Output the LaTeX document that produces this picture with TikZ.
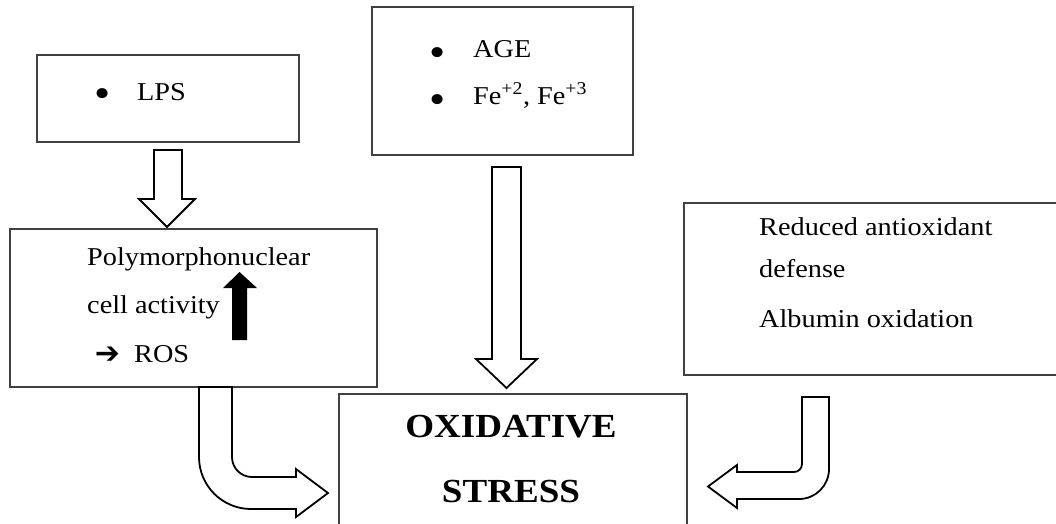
\documentclass[tikz,border=0pt]{standalone}
\usepackage{fontspec}
\setmainfont[FakeStretch=1.1]{Liberation Serif}
\newfontfamily\symfont{DejaVu Sans}
\begin{document}
\begin{tikzpicture}[x=1pt,y=-1pt,
  box/.style={draw=black!75, line width=1.2pt, rectangle, inner sep=0pt, outer sep=0pt, anchor=north west},
  txt/.style={anchor=base west, inner sep=0pt, font=\fontsize{25.7}{30}\selectfont},
  bul/.style={anchor=center, inner sep=0pt, font=\fontsize{42}{48}\selectfont},
  big/.style={anchor=base, inner sep=0pt, font=\fontsize{33.7}{40}\selectfont\bfseries},
  blk/.style={draw=black, line width=1.8pt, fill=white, line join=miter}]
\useasboundingbox (0,0) rectangle (1056,523);
\clip (0,0) rectangle (1056,523);

% boxes
\node[box, minimum width=262pt, minimum height=87pt] (lps) at (37,55) {};
\node[box, minimum width=261pt, minimum height=148pt] (age) at (372,7) {};
\node[box, minimum width=367pt, minimum height=158pt] (pmn) at (10,229) {};
\node[box, minimum width=390pt, minimum height=172pt] (red) at (684,203) {};
\node[box, minimum width=348pt, minimum height=150pt] (ox) at (339,394) {};

% texts
\node[bul] (b1) at (103,98) {•};
\node[txt] (t1) at (137,100) {LPS};
\node[bul] (b2) at (438,57) {•};
\node[txt] (t2) at (473,57) {AGE};
\node[bul] (b3) at (438,104) {•};
\node[txt] (t3) at (473,104) {Fe\textsuperscript{+2}, Fe\textsuperscript{+3}};
\node[txt] (t4) at (87,265) {Polymorphonuclear};
\node[txt] (t5) at (87,313) {cell activity};
\node[anchor=center, inner sep=0pt, font=\fontsize{30}{34}\selectfont\symfont\bfseries] (t6) at (107.5,355) {➔};
\node[txt] (t7) at (134,362) {ROS};
\node[txt] (t8) at (759,235) {Reduced antioxidant};
\node[txt] (t9) at (759,277) {defense};
\node[txt] (t10) at (759,327) {Albumin oxidation};
\node[big] (t11) at (511,437) {OXIDATIVE};
\node[big] (t12) at (511,502) {STRESS};

% black up arrow
\fill[black] (232,340) -- (232,288) -- (223,288) -- (239.5,272) -- (257,288) -- (247,288) -- (247,340) -- cycle;

% block arrow LPS -> PMN
\draw[blk] (154,150) -- (154,199) -- (139,199) -- (167,227) -- (195,199) -- (182,199) -- (182,150) -- cycle;
% block arrow AGE -> OX
\draw[blk] (492,167) -- (492,359) -- (476,359) -- (506.5,388) -- (537,359) -- (521,359) -- (521,167) -- cycle;
% bent arrow PMN -> OX
\draw[blk] (199,387) -- (199,457) arc[start angle=180, end angle=90, radius=52]
  -- (296,509) -- (296,517) -- (328,493) -- (296,469) -- (296,477) -- (252,477)
  arc[start angle=90, end angle=180, radius=20] -- (232,387) -- cycle;
% bent arrow RED -> OX
\draw[blk] (802,397) -- (802,464) arc[start angle=0, end angle=90, radius=8]
  -- (737,472) -- (737,465) -- (708,486.5) -- (737,508) -- (737,499) -- (799,499)
  arc[start angle=90, end angle=0, radius=30] -- (829,397) -- cycle;
\end{tikzpicture}
\end{document}
